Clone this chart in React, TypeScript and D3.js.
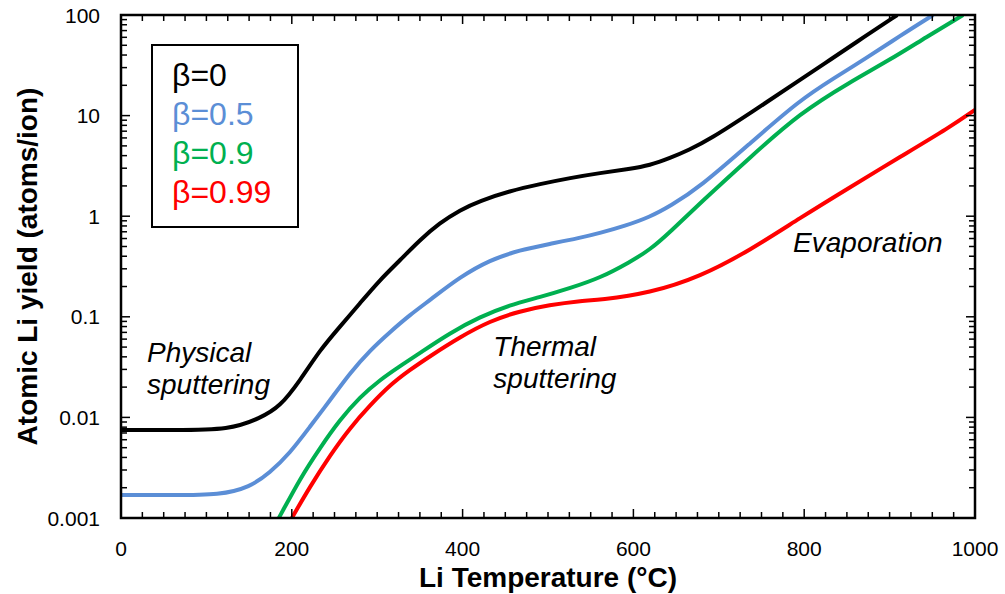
import React from "react";
import * as d3 from "d3";

const W = 1005;
const H = 594;

// Temperature (°C) and atomic Li yield (atoms/ion)
const tBeta0 = [0, 60, 128, 163, 186, 210, 233, 256, 280, 303, 327, 350, 373, 397, 420, 455, 491, 526, 561, 596, 619, 643, 665, 690, 737, 795, 830, 870, 909];
const yBeta0 = [0.0075, 0.0075, 0.0075, 0.00986, 0.0127, 0.0235, 0.0468, 0.0792, 0.137, 0.232, 0.367, 0.58, 0.855, 1.153, 1.416, 1.78, 2.09, 2.4, 2.69, 2.95, 3.2, 3.79, 4.55, 5.85, 10.6, 22.6, 35.7, 60.4, 100];

const tBeta05 = [0, 60, 116, 151, 174, 198, 221, 245, 268, 292, 315, 338, 362, 397, 432, 467, 502, 537, 561, 590, 619, 643, 678, 737, 795, 835, 873, 912, 951];
const yBeta05 = [0.00169, 0.00169, 0.00169, 0.00203, 0.0028, 0.00443, 0.00803, 0.0149, 0.0276, 0.0468, 0.0706, 0.104, 0.147, 0.249, 0.367, 0.461, 0.53, 0.607, 0.681, 0.8, 0.98, 1.26, 1.95, 5.34, 14.3, 23.6, 37.4, 61.9, 100];

const tBeta09 = [165, 185, 210, 233, 256, 280, 303, 327, 350, 385, 420, 455, 491, 526, 561, 596, 619, 643, 678, 737, 795, 854, 900, 943, 986];
const yBeta09 = [0.0005, 0.001, 0.0025, 0.00497, 0.00942, 0.016, 0.0235, 0.0324, 0.0437, 0.069, 0.0995, 0.131, 0.157, 0.193, 0.243, 0.351, 0.461, 0.697, 1.35, 3.87, 10.6, 21.6, 35.7, 60.4, 100];

const tBeta099 = [180, 200, 221, 245, 268, 292, 315, 338, 362, 397, 432, 467, 502, 537, 561, 619, 678, 737, 795, 854, 912, 971, 1000];
const yBeta099 = [0.0005, 0.001, 0.00203, 0.00423, 0.00785, 0.0133, 0.021, 0.0296, 0.0407, 0.063, 0.0908, 0.114, 0.131, 0.144, 0.147, 0.172, 0.249, 0.461, 0.96, 1.95, 3.87, 7.71, 11.4];

const seriesNames = ["β=0", "β=0.5", "β=0.9", "β=0.99"];
const seriesColors = ["#000000", "#5B8ED6", "#00B050", "#FF0000"];

const xTicks = [0, 200, 400, 600, 800, 1000];
const yTicks = [0.001, 0.01, 0.1, 1, 10, 100];
const yTickLabels = ["0.001", "0.01", "0.1", "1", "10", "100"];

const annotations = [
  { lines: ["Physical", "sputtering"], t: 30.5, v: 0.0356 },
  { lines: ["Thermal", "sputtering"], t: 436, v: 0.0407 },
  { lines: ["Evaporation"], t: 787, v: 0.441 },
];

const M = { left: 121, right: 975, top: 15, bottom: 518 };

export default function App() {
  const x = d3.scaleLinear().domain([0, 1000]).range([M.left, M.right]);
  const y = d3.scaleLog().domain([0.001, 100]).range([M.bottom, M.top]);

  const series = [
    { t: tBeta0, v: yBeta0 },
    { t: tBeta05, v: yBeta05 },
    { t: tBeta09, v: yBeta09 },
    { t: tBeta099, v: yBeta099 },
  ];

  const line = d3
    .line<[number, number]>()
    .x((d) => x(d[0]))
    .y((d) => y(d[1]))
    .curve(d3.curveBasis);

  const font = "Liberation Sans, Arial, sans-serif";

  const xMinor: number[] = d3.range(0, 1001, 25);
  const yMinor: number[] = [];
  for (let e = -3; e < 2; e++) {
    for (let k = 1; k <= 9; k++) yMinor.push(k * Math.pow(10, e));
  }
  yMinor.push(100);

  const isMajorX = (v: number) => v % 200 === 0;
  const isMajorY = (v: number) => Math.abs(Math.log10(v) - Math.round(Math.log10(v))) < 1e-9;

  return (
    <svg
      width={W}
      height={H}
      style={{ position: "absolute", left: 0, top: 0, background: "#fff" }}
      fontFamily={font}
    >
      <defs>
        <clipPath id="plotClip">
          <rect x={M.left} y={M.top} width={M.right - M.left} height={M.bottom - M.top} />
        </clipPath>
      </defs>

      {/* curves */}
      <g clipPath="url(#plotClip)">
        {series.map((s, i) => (
          <path
            key={i}
            d={line(s.t.map((t, j) => [t, s.v[j]] as [number, number])) || ""}
            fill="none"
            stroke={seriesColors[i]}
            strokeWidth={4}
            strokeLinejoin="round"
          />
        ))}
      </g>

      {/* ticks */}
      <g stroke="#000" strokeWidth={1.5}>
        {xMinor.map((v) => {
          const len = isMajorX(v) ? 9 : 6;
          return (
            <g key={"xt" + v}>
              <line x1={x(v)} x2={x(v)} y1={M.bottom} y2={M.bottom - len} />
              <line x1={x(v)} x2={x(v)} y1={M.top} y2={M.top + len} />
            </g>
          );
        })}
        {yMinor.map((v, i) => {
          const len = isMajorY(v) ? 9 : 6;
          return (
            <g key={"yt" + i}>
              <line x1={M.left} x2={M.left + len} y1={y(v)} y2={y(v)} />
              <line x1={M.right} x2={M.right - len} y1={y(v)} y2={y(v)} />
            </g>
          );
        })}
      </g>

      {/* frame */}
      <rect
        x={M.left}
        y={M.top}
        width={M.right - M.left}
        height={M.bottom - M.top}
        fill="none"
        stroke="#000"
        strokeWidth={2.5}
      />

      {/* tick labels */}
      {xTicks.map((v) => (
        <text key={"xl" + v} x={x(v)} y={556} textAnchor="middle" fontSize={21} fill="#000">
          {v}
        </text>
      ))}
      {yTicks.map((v, i) => (
        <text key={"yl" + v} x={100} y={y(v) + 7.5} textAnchor="end" fontSize={21} fill="#000">
          {yTickLabels[i]}
        </text>
      ))}

      {/* axis titles */}
      <text x={(M.left + M.right) / 2} y={587} textAnchor="middle" fontSize={28} fontWeight="bold" fill="#000">
        Li Temperature (°C)
      </text>
      <text
        transform={`translate(37, ${(M.top + M.bottom) / 2}) rotate(-90)`}
        textAnchor="middle"
        fontSize={28}
        fontWeight="bold"
        fill="#000"
      >
        Atomic Li yield (atoms/ion)
      </text>

      {/* legend */}
      <rect x={152} y={45} width={146} height={182} fill="#fff" stroke="#000" strokeWidth={2} />
      {seriesNames.map((n, i) => (
        <text key={n} x={172} y={86 + i * 39} fontSize={32} fill={seriesColors[i]}>
          {n}
        </text>
      ))}

      {/* annotations */}
      {annotations.map((a, i) => (
        <text key={i} x={x(a.t)} y={y(a.v)} fontSize={28} fontStyle="italic" fill="#000">
          {a.lines.map((l, j) => (
            <tspan key={j} x={x(a.t)} dy={j === 0 ? 0 : 32}>
              {l}
            </tspan>
          ))}
        </text>
      ))}
    </svg>
  );
}
